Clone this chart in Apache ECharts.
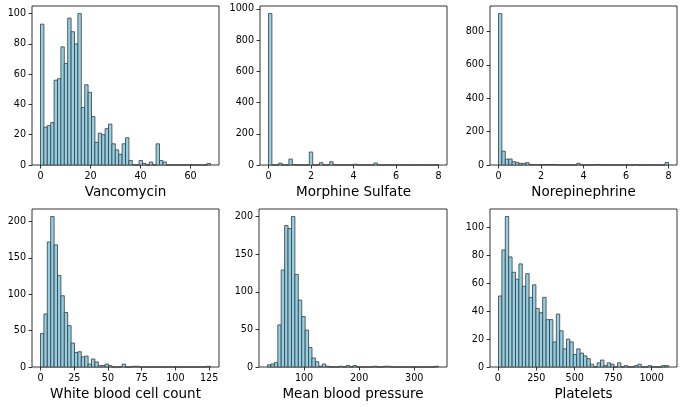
<!DOCTYPE html>
<html>
<head>
<meta charset="utf-8">
<script src="https://cdn.jsdelivr.net/npm/echarts@6/dist/echarts.min.js"></script>
<style>
  html, body { margin: 0; padding: 0; background: #fff; }
  #main { position: relative; width: 685px; height: 407px; }
  .panel { position: absolute; }
</style>
</head>
<body>
<div id="main"></div>
<script>
// histogram counts, 50 bins each
var vancCounts = [93, 25, 26, 28, 56, 57, 78, 67, 97, 88, 80, 100, 38, 53, 48, 32, 15, 21, 20, 24,
  27, 14, 10, 7, 14, 18, 3, 0, 0, 3, 1, 0, 2, 0, 14, 3, 2, 0, 0, 0,
  0, 0, 0, 0, 0, 0, 0, 0, 0, 1];
var morphCounts = [970, 0, 0, 12, 0, 0, 38, 3, 0, 0, 0, 0, 83, 0, 0, 15, 0, 0, 21, 2,
  0, 0, 0, 0, 1, 5, 0, 0, 0, 0, 0, 13, 0, 0, 0, 0, 0, 0, 0, 0,
  0, 0, 0, 0, 0, 0, 0, 0, 0, 2];
var norepiCounts = [907, 83, 35, 36, 20, 16, 10, 10, 14, 3, 2, 1, 1, 2, 3, 2, 3, 1, 0, 0,
  0, 0, 0, 10, 1, 0, 0, 0, 3, 3, 0, 0, 0, 0, 0, 0, 0, 0, 1, 0,
  2, 0, 0, 0, 0, 0, 0, 0, 0, 15];
var wbcCounts = [46, 73, 172, 207, 168, 126, 98, 75, 57, 33, 20, 21, 14, 15, 4, 11, 7, 2, 2, 4,
  2, 0, 0, 0, 4, 0, 0, 1, 1, 0, 0, 0, 0, 0, 0, 0, 0, 0, 0, 0,
  0, 0, 0, 0, 0, 0, 0, 0, 0, 1];
var mbpCounts = [3, 4, 6, 56, 129, 188, 184, 200, 123, 89, 67, 49, 26, 12, 7, 1, 4, 1, 0, 0,
  0, 1, 0, 2, 0, 2, 0, 0, 0, 0, 0, 1, 0, 0, 1, 1, 0, 0, 0, 0,
  0, 0, 0, 0, 0, 0, 0, 0, 0, 1];
var pltCounts = [51, 84, 108, 79, 68, 63, 74, 58, 67, 50, 59, 42, 39, 50, 34, 34, 18, 38, 26, 13,
  20, 18, 9, 13, 10, 8, 6, 2, 0, 3, 5, 1, 3, 2, 0, 3, 0, 1, 0, 0,
  1, 2, 0, 0, 1, 0, 0, 0, 1, 1];

// data range [min, max] of each variable
var vancRange = [0, 68];
var morphRange = [0, 8];
var norepiRange = [0, 8];
var wbcRange = [0, 126];
var mbpRange = [33.7, 344];
var pltRange = [4, 1110];

// tick labels
var vancXTicks = [0, 20, 40, 60];
var vancYTicks = [0, 20, 40, 60, 80, 100];
var morphXTicks = [0, 2, 4, 6, 8];
var morphYTicks = [0, 200, 400, 600, 800, 1000];
var norepiXTicks = [0, 2, 4, 6, 8];
var norepiYTicks = [0, 200, 400, 600, 800];
var wbcXTicks = [0, 25, 50, 75, 100, 125];
var wbcYTicks = [0, 50, 100, 150, 200];
var mbpXTicks = [100, 200, 300];
var mbpYTicks = [0, 50, 100, 150, 200];
var pltXTicks = [0, 250, 500, 750, 1000];
var pltYTicks = [0, 20, 40, 60, 80, 100];

var panels = [
  { name: "Vancomycin", range: vancRange, counts: vancCounts, xt: vancXTicks, yt: vancYTicks },
  { name: "Morphine Sulfate", range: morphRange, counts: morphCounts, xt: morphXTicks, yt: morphYTicks },
  { name: "Norepinephrine", range: norepiRange, counts: norepiCounts, xt: norepiXTicks, yt: norepiYTicks },
  { name: "White blood cell count", range: wbcRange, counts: wbcCounts, xt: wbcXTicks, yt: wbcYTicks },
  { name: "Mean blood pressure", range: mbpRange, counts: mbpCounts, xt: mbpXTicks, yt: mbpYTicks },
  { name: "Platelets", range: pltRange, counts: pltCounts, xt: pltXTicks, yt: pltYTicks }
];

// each panel gets its own chart; cell = container, box = plot frame (page px)
var cells = [
  { left: 0, top: 0, width: 228, height: 207 },
  { left: 228, top: 0, width: 230, height: 207 },
  { left: 458, top: 0, width: 227, height: 207 },
  { left: 0, top: 200, width: 228, height: 207 },
  { left: 228, top: 200, width: 230, height: 207 },
  { left: 458, top: 200, width: 227, height: 207 }
];
var boxes = [
  { left: 32, top: 6, width: 187, height: 159 },
  { left: 260, top: 6, width: 187, height: 159 },
  { left: 490, top: 6, width: 187, height: 159 },
  { left: 32, top: 209, width: 187, height: 158 },
  { left: 259, top: 209, width: 188, height: 158 },
  { left: 490, top: 209, width: 187, height: 158 }
];

var font = "DejaVu Sans";
var fillColor = "#92d0e6";
var edgeColor = "#3a3a3a";

function plainNum(v) {
  return String(v);
}

var main = document.getElementById("main");

panels.forEach(function (p, i) {
  var cell = cells[i], box = boxes[i];
  var dom = document.createElement("div");
  dom.className = "panel";
  dom.style.left = cell.left + "px";
  dom.style.top = cell.top + "px";
  dom.style.width = cell.width + "px";
  dom.style.height = cell.height + "px";
  main.appendChild(dom);

  var lo = p.range[0], hi = p.range[1];
  var w = (hi - lo) / p.counts.length;
  var pad = (hi - lo) * 0.05;
  var ymax = Math.max.apply(null, p.counts) * 1.05;

  var data = p.counts.map(function (c, k) {
    return [lo + k * w, lo + (k + 1) * w, c];
  });

  var chart = echarts.init(dom, null, { renderer: "canvas" });
  chart.setOption({
    animation: false,
    grid: {
      left: box.left - cell.left, top: box.top - cell.top, width: box.width, height: box.height,
      outerBoundsMode: "none", containLabel: false,
      show: true, borderColor: "#000", borderWidth: 0.8, backgroundColor: "transparent"
    },
    xAxis: {
      type: "value",
      min: lo - pad,
      max: hi + pad,
      name: p.name,
      nameLocation: "middle",
      nameGap: 19,
      nameTextStyle: { fontFamily: font, fontSize: 13.5, color: "#000" },
      axisLine: { show: false, onZero: false },
      splitLine: { show: false },
      axisTick: { show: true, length: 3.5, customValues: p.xt, lineStyle: { color: "#000", width: 0.8 } },
      axisLabel: { customValues: p.xt, margin: 6, fontFamily: font, fontSize: 9.6, color: "#000", formatter: plainNum }
    },
    yAxis: {
      type: "value",
      min: 0,
      max: ymax,
      axisLine: { show: false, onZero: false },
      splitLine: { show: false },
      axisTick: { show: true, length: 3.5, customValues: p.yt, lineStyle: { color: "#000", width: 0.8 } },
      axisLabel: { customValues: p.yt, margin: 6, fontFamily: font, fontSize: 9.6, color: "#000", formatter: plainNum }
    },
    series: [{
      type: "custom",
      encode: { x: [0, 1], y: 2 },
      data: data,
      renderItem: function (params, api) {
        var p0 = api.coord([api.value(0), api.value(2)]);
        var p1 = api.coord([api.value(1), 0]);
        return {
          type: "rect",
          shape: { x: p0[0], y: p0[1], width: p1[0] - p0[0], height: p1[1] - p0[1] },
          style: { fill: fillColor, stroke: edgeColor, lineWidth: 0.8 }
        };
      }
    }]
  });
});
</script>
</body>
</html>
